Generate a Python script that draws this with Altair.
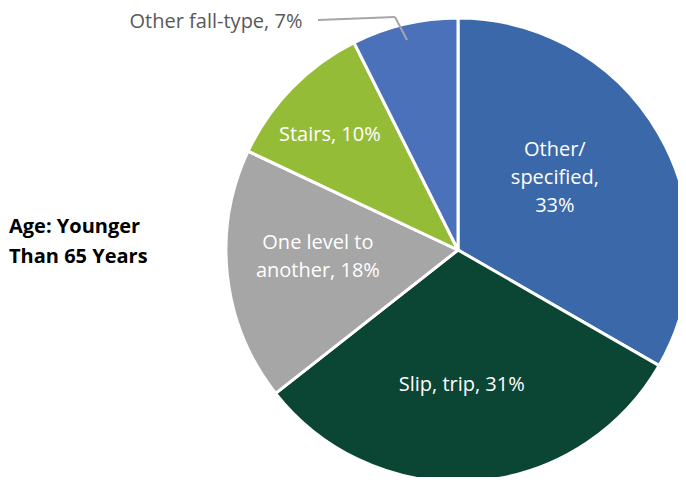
import altair as alt
import pandas as pd

categories = ["Other/specified", "Slip, trip", "One level to another", "Stairs", "Other fall-type"]
values = [33.3, 31.1, 17.6, 10.6, 7.4]
labels = ["Other/\nspecified,\n33%", "Slip, trip, 31%", "One level to\nanother, 18%", "Stairs, 10%", "Other fall-type, 7%"]
colors = ["#3A68A9", "#0B4534", "#A6A6A6", "#95BC36", "#4A71BA"]
title_text = "Age: Younger\nThan 65 Years"

df = pd.DataFrame({"category": categories, "value": values, "label": labels,
                   "idx": list(range(len(categories)))})

CX, CY, R = 450, 242, 232
FONT = "Open Sans"

base = alt.Chart(df)

theta = alt.Theta("value:Q", stack=True)
order = alt.Order("idx:Q")

pie = base.mark_arc(stroke="white", strokeWidth=3).encode(
    theta=theta,
    order=order,
    color=alt.Color("category:N", scale=alt.Scale(domain=categories, range=colors), legend=None),
    x=alt.value(CX), y=alt.value(CY), radius=alt.value(R),
)

# inside-slice label placements: (radius, dx, dy)
placement = {
    "Other/specified": (120, -7, -40),
    "Slip, trip": (135, -6, 0),
    "One level to another": (140, -1, -23),
    "Stairs": (172, -5, 5),
}

layers = [pie]
for cat, (r, dx, dy) in placement.items():
    layers.append(
        base.mark_text(radius=r, dx=dx, dy=dy, font=FONT, fontSize=20, color="white",
                       align="center", baseline="middle", lineBreak="\n", lineHeight=28).encode(
            theta=theta,
            order=order,
            detail="category:N",
            x=alt.value(CX), y=alt.value(CY),
            text=alt.condition(alt.datum.category == cat, "label:N", alt.value("")),
        )
    )

outside = base.transform_filter(alt.datum.category == "Other fall-type").mark_text(
    font=FONT, fontSize=20, color="#595959", align="center", baseline="middle"
).encode(x=alt.value(208), y=alt.value(14), text="label:N")

leader1 = base.transform_filter(alt.datum.category == "Other fall-type").mark_rule(
    color="#A6A6A6", strokeWidth=2).encode(
    x=alt.value(310), y=alt.value(12), x2=alt.value(387), y2=alt.value(9))
leader2 = base.transform_filter(alt.datum.category == "Other fall-type").mark_rule(
    color="#A6A6A6", strokeWidth=2).encode(
    x=alt.value(387), y=alt.value(9), x2=alt.value(399), y2=alt.value(32))

title = alt.Chart(pd.DataFrame({"t": [title_text]})).mark_text(
    font=FONT, fontSize=20, fontWeight="bold", color="black", align="left",
    baseline="alphabetic", lineBreak="\n", lineHeight=30
).encode(x=alt.value(1), y=alt.value(225), text="t:N")

chart = alt.layer(*layers, leader1, leader2, outside, title).properties(
    width=670, height=469, padding=0, autosize=alt.AutoSizeParams(type="none")
).configure_view(stroke=None)

chart.save("out.html", embed_options={"renderer": "svg", "actions": False})
